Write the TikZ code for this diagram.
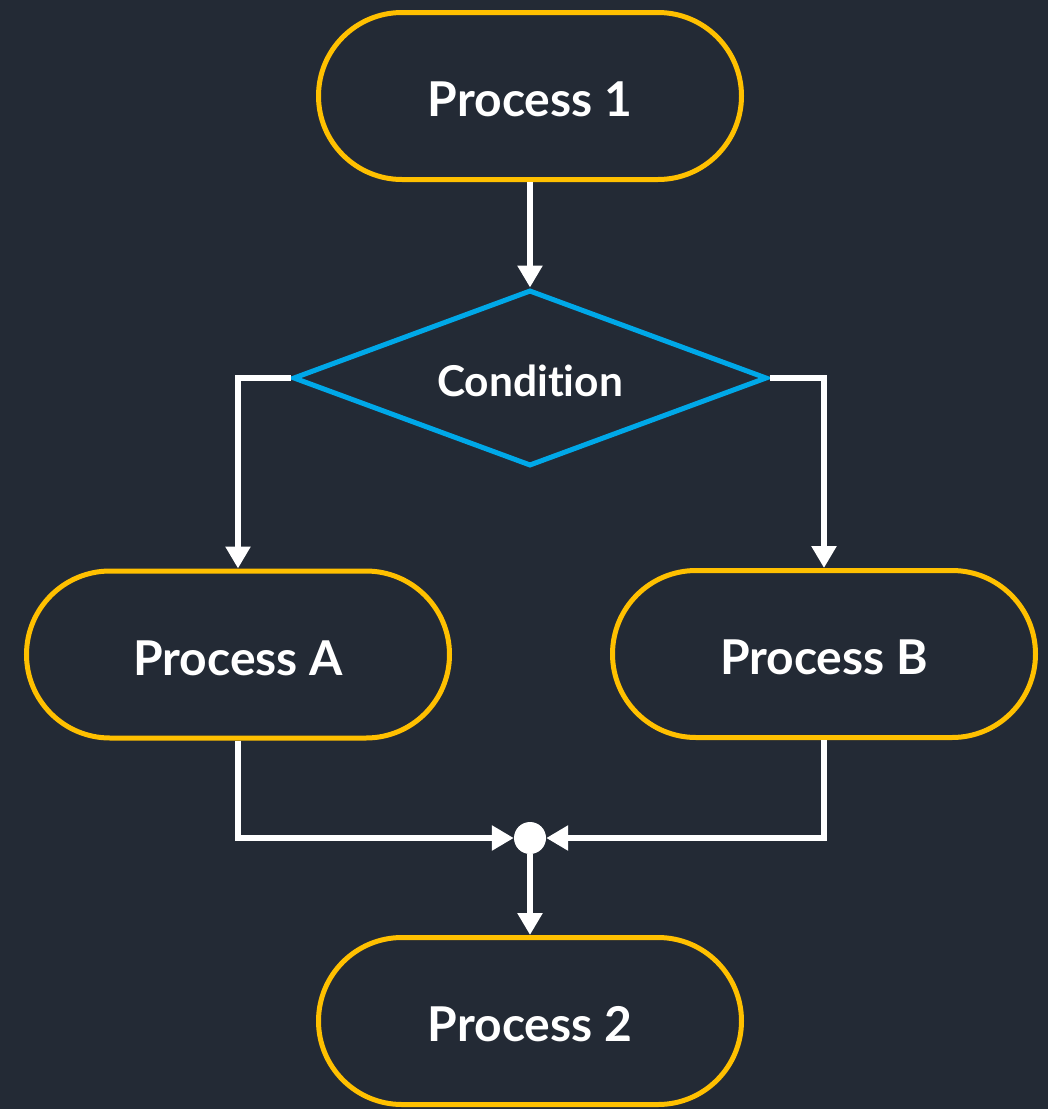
\documentclass[tikz,border=0pt]{standalone}
\usepackage{fontspec}
\setmainfont{Lato}[Ligatures=CommonOff]
\usetikzlibrary{shapes.misc,shapes.geometric,arrows.meta}
\definecolor{bg}{HTML}{232A35}
\definecolor{yel}{HTML}{FFC000}
\definecolor{blu}{HTML}{00A8E8}
\tikzset{
  procbox/.style={rounded rectangle, draw=yel, line width=5pt, minimum width=423pt, minimum height=167pt, inner sep=0pt, text=white, text height=41pt, text depth=0pt, font=\fontsize{48}{52}\selectfont\bfseries},
  condbox/.style={diamond, draw=blu, line width=5pt, minimum width=474pt, minimum height=176pt, aspect=2.69, inner sep=0pt, text=white, text height=37pt, text depth=0pt, font=\fontsize{42.5}{46}\selectfont\bfseries},
  flow/.style={draw=white, line width=6pt, -{Triangle[width=24pt,length=22pt]}},
  joindot/.style={circle, fill=white, minimum size=32pt, inner sep=0pt}
}
\begin{document}
\begin{tikzpicture}[x=1pt,y=-1pt]
\fill[bg] (0,0) rectangle (1048,1109);
\useasboundingbox (0,0) rectangle (1048,1109);
\node[procbox] (p1) at (530,96) {Process 1};
\node[condbox] (cond) at (530,378) {Condition};
\node[procbox] (pa) at (238,654.5) {Process A};
\node[procbox] (pb) at (824,654) {Process B};
\node[joindot] (dot) at (530,838) {};
\node[procbox] (p2) at (530,1021) {Process 2};
\draw[flow] (p1.south) -- (cond.north);
\draw[flow] (cond.west) -| (pa.north);
\draw[flow] (cond.east) -| (pb.north);
\draw[flow] (pa.south) |- (dot.west);
\draw[flow] (pb.south) |- (dot.east);
\draw[flow] (dot.south) -- (p2.north);
\end{tikzpicture}
\end{document}
